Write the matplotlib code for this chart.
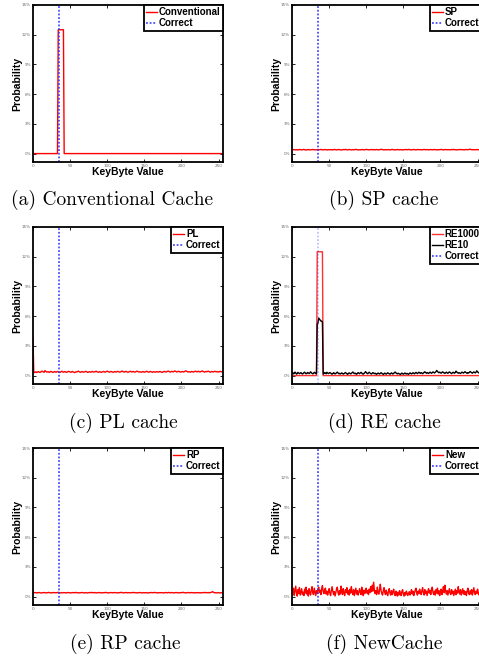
import numpy as np
import matplotlib
matplotlib.use('Agg')
import matplotlib.pyplot as plt

# probability (%) for every key byte value
conventional = [0.0] * 34 + [12.5] * 8 + [0.0] * 214
re1000 = [0.0] * 34 + [12.5] * 8 + [0.0] * 214

sp = [
    0.38, 0.40, 0.39, 0.41, 0.37, 0.39, 0.40, 0.38, 0.36, 0.39, 0.41, 0.40, 0.38, 0.37, 0.39, 0.40,
    0.42, 0.39, 0.38, 0.36, 0.38, 0.40, 0.41, 0.39, 0.37, 0.38, 0.40, 0.39, 0.41, 0.40, 0.38, 0.39,
    0.37, 0.38, 0.40, 0.41, 0.39, 0.38, 0.40, 0.42, 0.39, 0.37, 0.38, 0.40, 0.39, 0.41, 0.38, 0.37,
    0.39, 0.40, 0.38, 0.39, 0.41, 0.40, 0.37, 0.38, 0.39, 0.42, 0.40, 0.38, 0.37, 0.39, 0.40, 0.41,
    0.39, 0.38, 0.36, 0.38, 0.40, 0.41, 0.39, 0.40, 0.42, 0.40, 0.38, 0.37, 0.39, 0.41, 0.40, 0.38,
    0.37, 0.39, 0.40, 0.38, 0.39, 0.41, 0.42, 0.40, 0.38, 0.37, 0.38, 0.40, 0.39, 0.38, 0.40, 0.41,
    0.39, 0.37, 0.38, 0.40, 0.42, 0.41, 0.39, 0.38, 0.37, 0.39, 0.40, 0.41, 0.39, 0.38, 0.40, 0.39,
    0.38, 0.40, 0.41, 0.39, 0.37, 0.38, 0.40, 0.39, 0.41, 0.43, 0.40, 0.38, 0.37, 0.39, 0.40, 0.38,
    0.39, 0.41, 0.40, 0.38, 0.37, 0.39, 0.40, 0.42, 0.40, 0.38, 0.39, 0.37, 0.38, 0.40, 0.41, 0.39,
    0.38, 0.39, 0.41, 0.40, 0.38, 0.36, 0.38, 0.40, 0.39, 0.41, 0.40, 0.38, 0.39, 0.40, 0.42, 0.39,
    0.37, 0.38, 0.40, 0.39, 0.41, 0.40, 0.38, 0.37, 0.39, 0.41, 0.40, 0.38, 0.39, 0.40, 0.38, 0.37,
    0.39, 0.40, 0.42, 0.40, 0.38, 0.39, 0.41, 0.39, 0.37, 0.38, 0.40, 0.41, 0.39, 0.38, 0.40, 0.39,
    0.41, 0.40, 0.38, 0.37, 0.39, 0.40, 0.38, 0.39, 0.41, 0.42, 0.40, 0.38, 0.37, 0.39, 0.40, 0.41,
    0.39, 0.38, 0.40, 0.39, 0.37, 0.38, 0.40, 0.41, 0.39, 0.40, 0.42, 0.40, 0.38, 0.39, 0.37, 0.38,
    0.40, 0.39, 0.41, 0.40, 0.38, 0.39, 0.40, 0.38, 0.37, 0.39, 0.41, 0.40, 0.38, 0.39, 0.40, 0.42,
    0.45, 0.41, 0.39, 0.38, 0.40, 0.39, 0.37, 0.38, 0.40, 0.41, 0.39, 0.38, 0.40, 0.39, 0.38, 0.39,
]

pl = [
    3.80, 0.42, 0.30, 0.33, 0.38, 0.31, 0.35, 0.40, 0.36, 0.32, 0.34, 0.39, 0.45, 0.41, 0.36, 0.33,
    0.50, 0.44, 0.38, 0.35, 0.40, 0.36, 0.32, 0.37, 0.43, 0.39, 0.34, 0.31, 0.36, 0.41, 0.38, 0.33,
    0.37, 0.42, 0.39, 0.35, 0.31, 0.36, 0.40, 0.44, 0.38, 0.34, 0.37, 0.41, 0.36, 0.32, 0.35, 0.39,
    0.43, 0.40, 0.36, 0.33, 0.38, 0.42, 0.37, 0.34, 0.30, 0.35, 0.39, 0.36, 0.41, 0.45, 0.40, 0.36,
    0.33, 0.37, 0.41, 0.38, 0.34, 0.36, 0.40, 0.43, 0.39, 0.35, 0.32, 0.36, 0.40, 0.37, 0.34, 0.38,
    0.42, 0.39, 0.35, 0.37, 0.41, 0.44, 0.40, 0.36, 0.33, 0.37, 0.40, 0.36, 0.32, 0.35, 0.39, 0.42,
    0.38, 0.34, 0.37, 0.41, 0.45, 0.41, 0.37, 0.34, 0.38, 0.42, 0.39, 0.35, 0.33, 0.37, 0.41, 0.38,
    0.35, 0.39, 0.43, 0.40, 0.36, 0.34, 0.38, 0.42, 0.46, 0.41, 0.37, 0.35, 0.39, 0.43, 0.40, 0.36,
    0.33, 0.37, 0.41, 0.44, 0.40, 0.36, 0.38, 0.42, 0.39, 0.35, 0.37, 0.41, 0.45, 0.42, 0.38, 0.35,
    0.39, 0.36, 0.33, 0.37, 0.41, 0.38, 0.34, 0.36, 0.40, 0.44, 0.40, 0.37, 0.34, 0.38, 0.42, 0.39,
    0.36, 0.33, 0.37, 0.40, 0.36, 0.34, 0.38, 0.41, 0.37, 0.35, 0.39, 0.42, 0.38, 0.35, 0.32, 0.36,
    0.40, 0.43, 0.39, 0.36, 0.38, 0.42, 0.46, 0.42, 0.38, 0.35, 0.39, 0.43, 0.40, 0.37, 0.41, 0.47,
    0.43, 0.39, 0.36, 0.40, 0.44, 0.41, 0.37, 0.34, 0.38, 0.42, 0.39, 0.36, 0.40, 0.44, 0.48, 0.43,
    0.39, 0.36, 0.40, 0.37, 0.34, 0.38, 0.42, 0.39, 0.35, 0.38, 0.42, 0.45, 0.41, 0.37, 0.40, 0.44,
    0.40, 0.36, 0.39, 0.43, 0.47, 0.42, 0.38, 0.35, 0.39, 0.42, 0.38, 0.41, 0.45, 0.41, 0.37, 0.34,
    0.38, 0.42, 0.39, 0.36, 0.40, 0.44, 0.40, 0.37, 0.41, 0.38, 0.35, 0.39, 0.43, 0.40, 0.37, 0.41,
]

re10 = [
    0.25, 0.30, 0.18, 0.22, 0.35, 0.28, 0.15, 0.20, 0.32, 0.26, 0.19, 0.24, 0.30, 0.22, 0.16, 0.21,
    0.29, 0.34, 0.25, 0.18, 0.23, 0.31, 0.27, 0.20, 0.26, 0.38, 0.30, 0.22, 0.17, 0.24, 0.33, 0.28,
    0.21, 0.19, 5.20, 5.30, 5.80, 5.70, 5.60, 5.50, 5.50, 5.40, 0.15, 0.22, 0.30, 0.25, 0.18, 0.33,
    0.27, 0.20, 0.24, 0.31, 0.26, 0.19, 0.14, 0.22, 0.29, 0.24, 0.17, 0.21, 0.28, 0.35, 0.26, 0.19,
    0.23, 0.16, 0.20, 0.27, 0.22, 0.15, 0.19, 0.25, 0.31, 0.24, 0.18, 0.13, 0.21, 0.28, 0.23, 0.17,
    0.22, 0.29, 0.36, 0.27, 0.20, 0.25, 0.18, 0.14, 0.21, 0.30, 0.24, 0.19, 0.26, 0.33, 0.25, 0.18,
    0.15, 0.22, 0.28, 0.40, 0.31, 0.23, 0.19, 0.27, 0.34, 0.26, 0.20, 0.16, 0.23, 0.30, 0.25, 0.19,
    0.24, 0.17, 0.13, 0.20, 0.26, 0.21, 0.16, 0.22, 0.29, 0.24, 0.18, 0.12, 0.19, 0.25, 0.20, 0.15,
    0.21, 0.28, 0.23, 0.17, 0.14, 0.20, 0.27, 0.22, 0.16, 0.23, 0.30, 0.36, 0.27, 0.21, 0.17, 0.24,
    0.20, 0.15, 0.12, 0.18, 0.25, 0.20, 0.14, 0.19, 0.26, 0.21, 0.16, 0.22, 0.18, 0.13, 0.20, 0.27,
    0.23, 0.17, 0.22, 0.29, 0.24, 0.18, 0.25, 0.32, 0.26, 0.20, 0.27, 0.34, 0.28, 0.22, 0.30, 0.25,
    0.19, 0.26, 0.33, 0.38, 0.30, 0.24, 0.31, 0.27, 0.21, 0.28, 0.35, 0.29, 0.23, 0.30, 0.37, 0.31,
    0.26, 0.33, 0.40, 0.52, 0.42, 0.34, 0.28, 0.35, 0.30, 0.24, 0.31, 0.38, 0.32, 0.26, 0.22, 0.29,
    0.35, 0.28, 0.23, 0.30, 0.37, 0.31, 0.25, 0.20, 0.27, 0.34, 0.28, 0.24, 0.31, 0.45, 0.36, 0.29,
    0.24, 0.30, 0.26, 0.21, 0.28, 0.35, 0.30, 0.25, 0.32, 0.39, 0.33, 0.27, 0.23, 0.30, 0.26, 0.34,
    0.41, 0.35, 0.29, 0.24, 0.31, 0.37, 0.32, 0.27, 0.35, 0.48, 0.38, 0.31, 0.26, 0.33, 0.29, 0.36,
]

rp = [
    0.40, 0.38, 0.39, 0.41, 0.39, 0.37, 0.38, 0.40, 0.41, 0.39, 0.38, 0.36, 0.38, 0.40, 0.39, 0.41,
    0.40, 0.38, 0.37, 0.39, 0.40, 0.42, 0.40, 0.38, 0.39, 0.37, 0.38, 0.40, 0.41, 0.39, 0.38, 0.40,
    0.39, 0.41, 0.43, 0.40, 0.38, 0.37, 0.39, 0.40, 0.38, 0.39, 0.41, 0.40, 0.38, 0.37, 0.39, 0.41,
    0.40, 0.38, 0.39, 0.37, 0.38, 0.40, 0.41, 0.39, 0.38, 0.40, 0.42, 0.40, 0.38, 0.39, 0.37, 0.38,
    0.40, 0.39, 0.41, 0.40, 0.38, 0.37, 0.39, 0.40, 0.38, 0.36, 0.38, 0.40, 0.41, 0.39, 0.40, 0.42,
    0.40, 0.38, 0.39, 0.41, 0.39, 0.37, 0.38, 0.40, 0.39, 0.41, 0.40, 0.38, 0.37, 0.39, 0.40, 0.38,
    0.39, 0.41, 0.42, 0.40, 0.38, 0.39, 0.37, 0.38, 0.40, 0.41, 0.39, 0.38, 0.40, 0.39, 0.41, 0.40,
    0.38, 0.37, 0.39, 0.40, 0.38, 0.39, 0.41, 0.43, 0.40, 0.38, 0.37, 0.39, 0.40, 0.41, 0.39, 0.38,
    0.40, 0.39, 0.37, 0.38, 0.40, 0.41, 0.39, 0.40, 0.42, 0.40, 0.38, 0.39, 0.37, 0.38, 0.40, 0.39,
    0.41, 0.40, 0.38, 0.37, 0.39, 0.40, 0.38, 0.39, 0.41, 0.40, 0.38, 0.36, 0.38, 0.40, 0.39, 0.41,
    0.40, 0.38, 0.39, 0.41, 0.42, 0.40, 0.38, 0.37, 0.39, 0.40, 0.38, 0.39, 0.41, 0.40, 0.38, 0.39,
    0.37, 0.38, 0.40, 0.41, 0.39, 0.38, 0.40, 0.42, 0.40, 0.38, 0.39, 0.41, 0.39, 0.37, 0.38, 0.40,
    0.39, 0.41, 0.40, 0.38, 0.37, 0.39, 0.40, 0.38, 0.39, 0.41, 0.43, 0.40, 0.38, 0.39, 0.37, 0.38,
    0.40, 0.41, 0.39, 0.38, 0.40, 0.39, 0.41, 0.40, 0.38, 0.37, 0.39, 0.40, 0.38, 0.39, 0.41, 0.40,
    0.38, 0.39, 0.37, 0.38, 0.40, 0.41, 0.39, 0.40, 0.42, 0.40, 0.38, 0.39, 0.41, 0.39, 0.38, 0.40,
    0.42, 0.45, 0.50, 0.44, 0.40, 0.38, 0.39, 0.37, 0.38, 0.40, 0.39, 0.38, 0.37, 0.39, 0.38, 0.37,
]

new = [
    0.45, 0.20, 0.85, 0.10, 0.55, 1.05, 0.35, 0.05, 0.70, 0.30, 0.90, 0.15, 0.50, 0.80, 0.20, 0.45,
    0.10, 0.75, 0.35, 0.95, 0.25, 0.60, 0.05, 0.80, 0.40, 0.15, 0.65, 1.00, 0.35, 0.20, 0.85, 0.50,
    0.10, 0.60, 0.30, 0.75, 0.95, 0.40, 0.65, 0.20, 0.80, 1.10, 0.50, 0.30, 0.70, 0.85, 0.25, 0.55,
    0.15, 0.45, 0.80, 0.35, 0.10, 0.60, 1.00, 0.55, 0.20, 0.50, 0.05, 0.40, 0.75, 0.95, 0.40, 0.15,
    0.60, 0.25, 1.05, 0.45, 0.20, 0.80, 0.35, 0.10, 0.70, 0.40, 0.90, 0.25, 0.60, 0.15, 0.75, 0.35,
    1.00, 0.45, 0.20, 0.70, 0.10, 0.50, 0.85, 0.25, 0.60, 0.15, 0.40, 0.80, 0.45, 0.20, 0.95, 0.40,
    0.10, 0.65, 0.30, 0.55, 0.85, 0.35, 0.60, 0.20, 0.75, 0.40, 1.00, 0.50, 1.15, 0.55, 1.45, 0.65,
    0.30, 0.60, 0.20, 0.95, 0.45, 0.25, 0.70, 1.25, 0.60, 0.30, 0.15, 0.60, 0.90, 0.40, 0.20, 0.65,
    0.30, 0.10, 0.55, 0.80, 0.35, 0.15, 0.60, 0.20, 0.50, 0.75, 0.25, 0.10, 0.55, 0.25, 0.05, 0.45,
    0.15, 0.60, 0.30, 0.10, 0.50, 0.70, 0.25, 0.05, 0.40, 0.15, 0.55, 0.35, 0.10, 0.30, 0.50, 0.15,
    0.40, 0.70, 0.25, 0.55, 0.10, 0.35, 0.65, 0.85, 0.35, 0.15, 0.55, 0.30, 0.75, 0.40, 0.20, 0.60,
    0.90, 0.35, 0.15, 0.70, 0.30, 0.55, 0.10, 0.50, 0.80, 0.35, 0.60, 0.20, 0.75, 0.95, 0.40, 0.20,
    0.55, 0.15, 0.70, 0.35, 0.85, 0.25, 0.60, 0.10, 0.50, 0.75, 0.20, 0.55, 1.00, 0.40, 1.15, 0.55,
    0.25, 0.60, 0.15, 0.50, 0.80, 0.35, 0.20, 0.70, 0.30, 0.55, 0.10, 0.45, 0.75, 0.20, 0.60, 0.35,
    1.00, 0.45, 0.25, 0.70, 0.15, 0.50, 0.80, 0.25, 0.60, 0.20, 0.50, 0.10, 0.55, 0.85, 0.35, 0.20,
    0.60, 0.25, 0.70, 0.15, 0.50, 0.90, 0.35, 0.20, 0.55, 0.30, 0.75, 0.40, 0.15, 0.55, 0.30, 0.45,
]

correct_key = 35
x_ticks = [0, 50, 100, 150, 200, 250]
y_ticks = [0, 3, 6, 9, 12, 15]
y_tick_labels = ['0%', '3%', '6%', '9%', '12%', '15%']

captions = ['(a) Conventional Cache', '(b) SP cache', '(c) PL cache',
            '(d) RE cache', '(e) RP cache', '(f) NewCache']

# (series list, caption) per panel, row by row
panels = [
    ([(conventional, 'Conventional', 'red')], captions[0]),
    ([(sp, 'SP', 'red')], captions[1]),
    ([(pl, 'PL', 'red')], captions[2]),
    ([(re1000, 'RE1000', '#ff3030'), (re10, 'RE10', 'black')], captions[3]),
    ([(rp, 'RP', 'red')], captions[4]),
    ([(new, 'New', 'red')], captions[5]),
]

W, H = 479, 658
fig = plt.figure(figsize=(W / 100, H / 100), dpi=100)

col_left = [33 / W, 292 / W]
row_top = [5, 227, 448]
ax_w = 190 / W
ax_h = 157 / H
cap_y = [200, 423, 644]
cap_x = [112, 384, 123, 384, 125, 384]

bold = {'family': 'Liberation Sans', 'weight': 'bold', 'size': 7.5}

for i, (series, caption) in enumerate(panels):
    r, c = divmod(i, 2)
    bottom = 1 - (row_top[r] + 157) / H
    ax = fig.add_axes([col_left[c], bottom, ax_w, ax_h])
    for vals, name, color in series:
        ax.plot(np.arange(len(vals)), vals, color=color, lw=1.0, label=name)
    alpha = 0.35 if len(series) > 1 else 1.0
    ax.axvline(correct_key, color='#3030ff', lw=1.1, ls=(0, (1.2, 1.2)),
               label='Correct', alpha=alpha)
    ax.set_xlim(0, 256)
    ax.set_ylim(-0.85, 15)
    ax.set_xticks(x_ticks)
    ax.set_yticks(y_ticks)
    ax.set_yticklabels(y_tick_labels)
    ax.tick_params(direction='in', length=2, width=0.6, labelsize=3,
                   labelcolor='#666666', top=True, right=True, pad=1.5)
    for sp_ in ax.spines.values():
        sp_.set_linewidth(1.3)
    ax.set_xlabel('KeyByte Value', fontdict=bold)
    ax.xaxis.set_label_coords(0.5, -0.03)
    ax.set_ylabel('Probability', fontdict=bold)
    ax.yaxis.set_label_coords(-0.055, 0.5)
    leg = ax.legend(loc='upper right', borderaxespad=0, fancybox=False,
                    edgecolor='black', framealpha=1,
                    prop={'family': 'Liberation Sans', 'weight': 'bold', 'size': 7},
                    handlelength=1.1, handletextpad=0.2, borderpad=0.25,
                    labelspacing=0.1)
    leg.get_frame().set_linewidth(1.3)
    for h in leg.get_lines():
        h.set_alpha(1.0)
    fig.text(cap_x[i] / W, 1 - cap_y[r] / H, caption, family='cmr10',
             fontsize=14, ha='center', va='center')

fig.savefig('out.png', dpi=100)
